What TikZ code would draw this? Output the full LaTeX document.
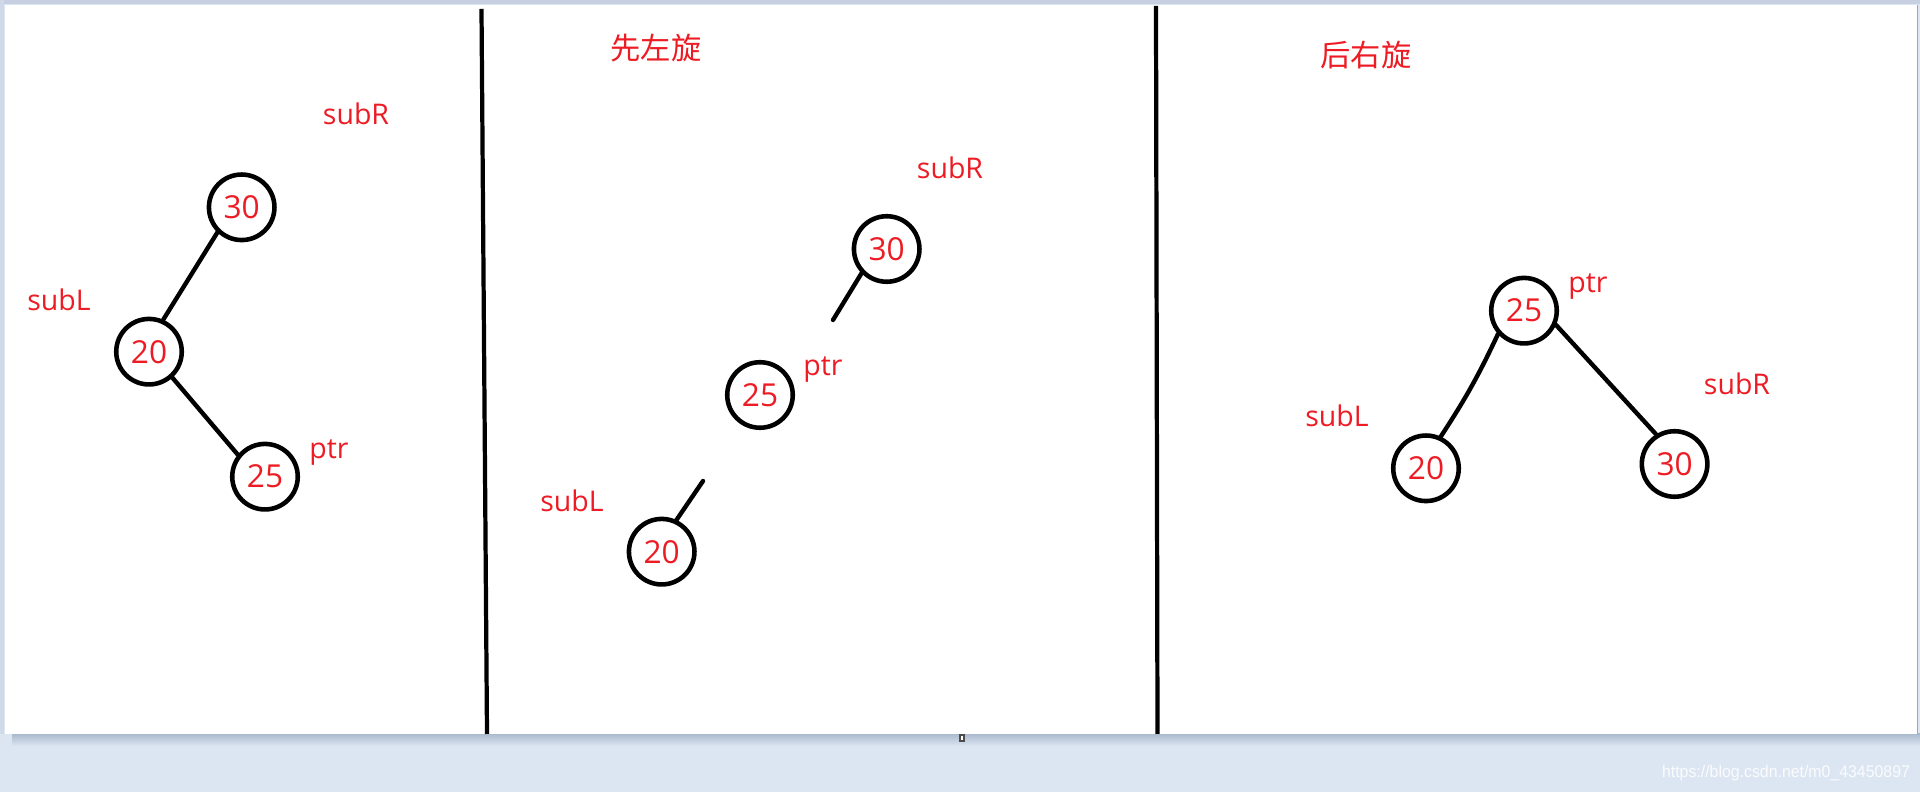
\documentclass[tikz,border=0pt]{standalone}
\usepackage{fontspec}
\setmainfont{Open Sans}
\newfontfamily\cjkfont{Noto Sans CJK SC}
\newfontfamily\markfont{Liberation Sans}
\usetikzlibrary{positioning}
\usepackage{xcolor}

\definecolor{paintred}{RGB}{237,28,36}
\definecolor{deskblue}{RGB}{220,230,242}
\definecolor{deskedge}{RGB}{198,208,224}
\definecolor{shadeblue}{RGB}{172,186,206}

\tikzset{
  keynode/.style={circle, draw=black, line width=1.3pt, minimum size=0.655cm,
    inner sep=0pt, text=paintred, font=\fontsize{9}{10}\selectfont},
  tag/.style={text=paintred, inner sep=0pt, font=\fontsize{8.1}{9}\selectfont},
  steptitle/.style={text=paintred, inner sep=0pt, font=\cjkfont\fontsize{8.6}{10}\selectfont},
  link/.style={line width=1.25pt, line cap=round},
  divider/.style={line width=1.2pt}
}

\begin{document}
\begin{tikzpicture}[x=0.01cm, y=-0.01cm]

% Draw the desk and the white canvas
\useasboundingbox (0,0) rectangle (1920,792);
\fill[deskblue] (0,0) rectangle (1920,792);
\fill[deskedge] (0,0) rectangle (1920,4);
\fill[deskedge!60!deskblue] (0,0) rectangle (4,734);
\shade[top color=shadeblue, bottom color=deskblue] (12,734) rectangle (1920,746);
\fill[white] (5,5) rectangle (1917,734);
\draw[gray!70, line width=0.3pt] (1917.5,5) -- (1917.5,734);
\filldraw[fill=white, draw=black!70, line width=0.3pt] (960,735) rectangle (964,741);

% Draw the dividers
\draw[divider] (481.5,9) -- (487,734);
\draw[divider] (1156,6) -- (1157.5,734);

% Panel 1: before rotation
\node[keynode] (a30) at (241.7,207.3) {30};
\node[keynode] (a20) at (149,351.7) {20};
\node[keynode] (a25) at (265,476.7) {25};
\node[tag] (aR) at (356,113.6) {subR};
\node[tag] (aL) at (59,300) {subL};
\node[tag] (aP) at (329,453) {ptr};
\draw[link] (a30.226) -- (a20.66);
\draw[link] (a20.312) -- (a25.141);

% Panel 2: left rotation first
\node[steptitle] (bT) at (656,48) {先左旋};
\node[keynode] (b30) at (886.7,249) {30};
\node[keynode] (b25) at (760,395) {25};
\node[keynode] (b20) at (661.7,551.7) {20};
\node[tag] (bR) at (950,168) {subR};
\node[tag] (bP) at (823,370) {ptr};
\node[tag] (bL) at (572,501) {subL};
\coordinate (s30) at (833,320);
\coordinate (s20) at (703,481);
\draw[link] (b30.224) -- (s30);
\draw[link] (b20.65) -- (s20);

% Panel 3: then right rotation
\node[steptitle] (cT) at (1366,55) {后右旋};
\node[keynode] (c25) at (1524,310.7) {25};
\node[keynode] (c20) at (1426,468.3) {20};
\node[keynode] (c30) at (1674.6,464) {30};
\node[tag] (cP) at (1588,287) {ptr};
\node[tag] (cL) at (1337,416) {subL};
\node[tag] (cR) at (1737,384) {subR};
\draw[link] (c25.222) to[bend left=4] (c20.65);
\draw[link] (c25.336) -- (c30.122);

% Watermark
\node[text=white, opacity=0.85, inner sep=0pt, xscale=0.94,
  font=\markfont\fontsize{4.8}{6}\selectfont] (mark) at (1786,773)
  {https://blog.csdn.net/m0\_43450897};

\end{tikzpicture}
\end{document}
